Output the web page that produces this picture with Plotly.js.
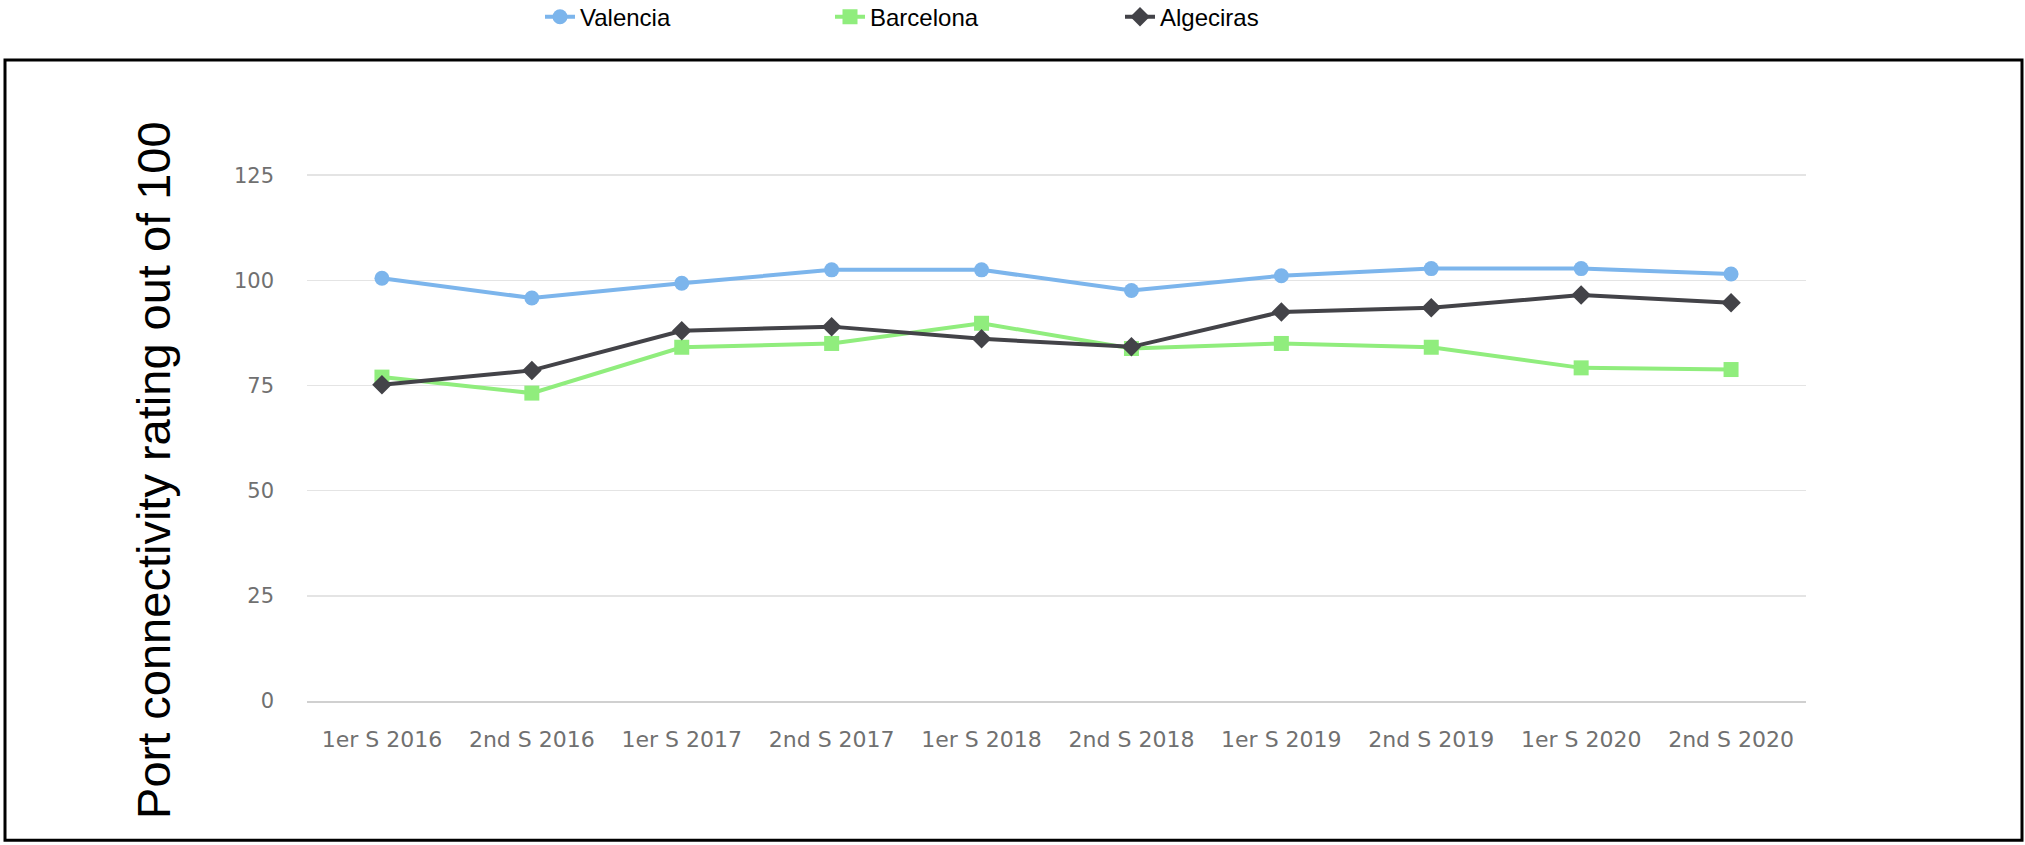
<!DOCTYPE html>
<html>
<head>
<meta charset="utf-8">
<script src="https://cdn.plot.ly/plotly-3.0.1.min.js"></script>
<style>
  html, body { margin: 0; padding: 0; background: #ffffff; }
  #chart { width: 2025px; height: 845px; }
</style>
</head>
<body>
<div id="chart"></div>
<script>
// ---- data ----
const categories = ["1er S 2016", "2nd S 2016", "1er S 2017", "2nd S 2017", "1er S 2018",
                    "2nd S 2018", "1er S 2019", "2nd S 2019", "1er S 2020", "2nd S 2020"];
const valencia  = [100.5, 95.8, 99.3, 102.5, 102.5, 97.6, 101.1, 102.8, 102.8, 101.5];
const barcelona = [77.0, 73.2, 84.1, 85.0, 89.8, 83.8, 85.0, 84.1, 79.2, 78.8];
const algeciras = [75.2, 78.6, 88.0, 89.0, 86.1, 84.2, 92.5, 93.5, 96.5, 94.7];
const yTicks = [0, 25, 50, 75, 100, 125];
const yTitle = "Port connectivity rating out of 100";

// ---- layout helpers (pixel -> paper) ----
const W = 2025, H = 845;
const mL = 307, mR = 219, mT = 171, mB = 143.5;
const pw = W - mL - mR, ph = H - mT - mB;
const px = x => (x - mL) / pw;
const py = y => (H - mB - y) / ph;

const textFont = "'Liberation Sans', Arial, sans-serif";
const tickFont = "'DejaVu Sans', 'Liberation Sans', sans-serif";

const traces = [
  { name: "Valencia", x: categories, y: valencia, type: "scatter", mode: "lines+markers",
    line: { color: "#7cb5ec", width: 4 },
    marker: { symbol: "circle", size: 15, color: "#7cb5ec" } },
  { name: "Barcelona", x: categories, y: barcelona, type: "scatter", mode: "lines+markers",
    line: { color: "#90ed7d", width: 4 },
    marker: { symbol: "square", size: 15, color: "#90ed7d" } },
  { name: "Algeciras", x: categories, y: algeciras, type: "scatter", mode: "lines+markers",
    line: { color: "#434348", width: 4 },
    marker: { symbol: "diamond", size: 15, color: "#434348" } }
];

const layout = {
  width: W, height: H,
  margin: { l: mL, r: mR, t: mT, b: mB, pad: 0, autoexpand: false },
  paper_bgcolor: "#ffffff",
  plot_bgcolor: "#ffffff",
  showlegend: true,
  legend: {
    orientation: "h",
    x: px(540), xanchor: "left",
    y: py(17), yanchor: "middle",
    entrywidth: 245, entrywidthmode: "pixels",
    font: { family: textFont, size: 24, color: "#000000" },
    bgcolor: "rgba(0,0,0,0)"
  },
  xaxis: {
    type: "category",
    range: [-0.5, 9.5],
    showgrid: false,
    zeroline: false,
    showline: true, linecolor: "#d0d0d0", linewidth: 2,
    ticks: "",
    ticklabelstandoff: 18,
    tickfont: { family: tickFont, size: 22, color: "#707070" },
    fixedrange: true
  },
  yaxis: {
    range: [0, 126],
    tickvals: yTicks,
    ticktext: yTicks.map(String),
    showgrid: true, gridcolor: "#e4e4e4", gridwidth: 1.5,
    zeroline: false,
    showline: false,
    ticks: "",
    ticklabelstandoff: 32,
    tickfont: { family: tickFont, size: 21, color: "#707070" },
    fixedrange: true
  },
  annotations: [
    { text: yTitle, xref: "paper", yref: "paper",
      x: px(153.5), y: py(470.7), xanchor: "center", yanchor: "middle",
      textangle: -90, showarrow: false,
      font: { family: textFont, size: 47, color: "#000000" } }
  ],
  shapes: [
    { type: "rect", xref: "paper", yref: "paper",
      x0: px(5), x1: px(2022), y0: py(841), y1: py(60),
      line: { color: "#000000", width: 3 }, fillcolor: "rgba(0,0,0,0)", layer: "above" }
  ]
};

Plotly.newPlot("chart", traces, layout, { displayModeBar: false, staticPlot: true });
</script>
</body>
</html>
